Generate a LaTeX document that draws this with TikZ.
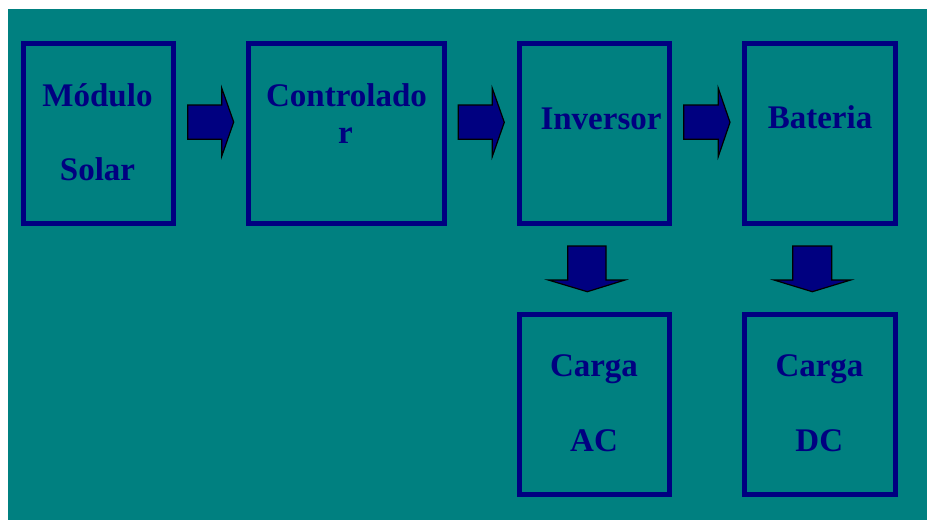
\documentclass[tikz,border=0pt]{standalone}
\usepackage{fontspec}
\setmainfont{Liberation Serif}
\definecolor{bgteal}{HTML}{008080}
\definecolor{navyb}{HTML}{000080}
\begin{document}
\begin{tikzpicture}[x=1pt,y=-1pt,
  box/.style={draw=navyb, line width=5pt, inner sep=0pt, rectangle, minimum height=179.5pt},
  lbl/.style={anchor=base, inner sep=0pt, text=navyb, font=\fontsize{33}{39}\selectfont\bfseries},
  blockarrow/.style={fill=navyb, draw=black, line width=1.2pt, line join=miter}]
\useasboundingbox (0,0) rectangle (927,520);
\fill[white] (0,0) rectangle (927,520);
\fill[bgteal] (8,9) rectangle (927,520);
% boxes
\node[box, minimum width=150.5pt] (mod) at (98.25,133.25) {};
\node[box, minimum width=195.5pt] (ctl) at (346.25,133.25) {};
\node[box, minimum width=149.7pt] (inv) at (594.35,133.25) {};
\node[box, minimum width=150.4pt] (bat) at (820,133.25) {};
\node[box, minimum width=150pt, minimum height=180pt] (cac) at (594.5,404.2) {};
\node[box, minimum width=150.4pt, minimum height=180pt] (cdc) at (820,404.2) {};
% labels
\node[lbl] (t1) at (97.5,106) {Módulo};
\node[lbl] (t2) at (97.5,180) {Solar};
\node[lbl] (t3) at (346.5,106.7) {Controlado};
\node[lbl] (t4) at (345.5,143.3) {r};
\node[lbl] (t5) at (601,129) {Inversor};
\node[lbl] (t6) at (820,128.3) {Bateria};
\node[lbl] (t7) at (594,376.7) {Carga};
\node[lbl] (t8) at (594,451.7) {AC};
\node[lbl] (t9) at (819.5,376.7) {Carga};
\node[lbl] (t10) at (819.3,451.7) {DC};
% block arrows (right)
\draw[blockarrow] (187.7,105) -- (221.7,105) -- (221.7,88) -- (233.7,122) -- (221.7,156.3) -- (221.7,139.3) -- (187.7,139.3) -- cycle;
\draw[blockarrow] (458.3,105) -- (492.3,105) -- (492.3,88.3) -- (504.3,122.3) -- (492.3,156.5) -- (492.3,139.3) -- (458.3,139.3) -- cycle;
\draw[blockarrow] (683.7,105) -- (718.3,105) -- (718.3,88.3) -- (730,122.3) -- (718.3,156.5) -- (718.3,139.3) -- (683.7,139.3) -- cycle;
% block arrows (down)
\draw[blockarrow] (567.7,246) -- (606,246) -- (606,280) -- (625,280) -- (587.3,291.7) -- (548.3,280) -- (567.7,280) -- cycle;
\draw[blockarrow] (792.7,246) -- (831.7,246) -- (831.7,280) -- (850.7,280) -- (812.3,291.7) -- (774,280) -- (792.7,280) -- cycle;
\end{tikzpicture}
\end{document}
